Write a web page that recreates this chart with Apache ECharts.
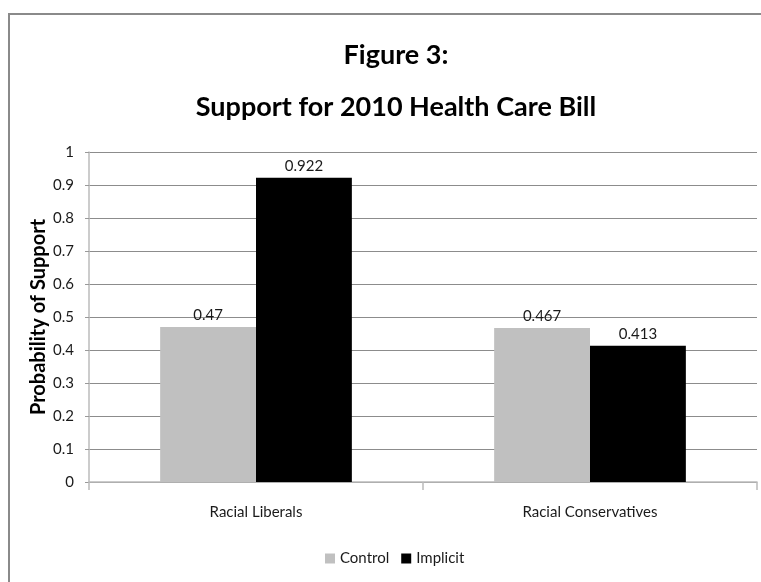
<!DOCTYPE html>
<html>
<head>
<meta charset="utf-8">
<script src="https://cdn.jsdelivr.net/npm/echarts@6/dist/echarts.min.js"></script>
<style>html,body{margin:0;padding:0;background:#fff}#c{width:761px;height:582px}</style>
</head>
<body>
<div id="c"></div>
<script>
const categories = ['Racial Liberals', 'Racial Conservatives'];
const controlValues = [0.47, 0.467];
const implicitValues = [0.922, 0.413];
const seriesNames = ['Control', 'Implicit'];
const titleText = 'Figure 3:\nSupport for 2010 Health Care Bill';
const yAxisTitle = 'Probability of Support';

const FONT = 'Lato, "Open Sans", sans-serif';
const chart = echarts.init(document.getElementById('c'), null, {renderer: 'canvas'});
const labelStyle = {show: true, position: 'top', distance: 4, color: '#1a1a1a', fontFamily: FONT, fontSize: 15,
  formatter: p => String(p.value)};
chart.setOption({
  animation: false,
  backgroundColor: '#fff',
  graphic: [{type: 'rect', shape: {x: 9, y: 14, width: 800, height: 620}, style: {fill: 'none', stroke: '#8a8a8a', lineWidth: 2}, silent: true}],
  title: {
    text: titleText, left: 391, top: 24, textAlign: 'center',
    textStyle: {fontFamily: FONT, fontWeight: 'bold', fontSize: 27, lineHeight: 52, color: '#000'}
  },
  legend: {
    data: seriesNames, left: 320, top: 546, itemWidth: 10, itemHeight: 10, itemGap: 12,
    icon: 'rect', textStyle: {fontFamily: FONT, fontSize: 15, color: '#1a1a1a'}
  },
  grid: {left: 89, right: 4, top: 152, bottom: 100, containLabel: false},
  xAxis: {
    type: 'category', data: categories,
    axisLine: {lineStyle: {color: '#bbb', width: 1.5}},
    axisTick: {show: true, length: 8, lineStyle: {color: '#bbb', width: 1.5}},
    axisLabel: {margin: 23, fontFamily: FONT, fontSize: 15, color: '#1a1a1a'}
  },
  yAxis: {
    type: 'value', min: 0, max: 1, interval: 0.1,
    name: yAxisTitle, nameLocation: 'middle', nameGap: 40, nameRotate: 90, nameMoveOverlap: false,
    nameTextStyle: {fontFamily: FONT, fontWeight: 'bold', fontSize: 20, color: '#000'},
    axisLine: {show: true, lineStyle: {color: '#bbb', width: 1.5}},
    axisTick: {show: true, length: 4, lineStyle: {color: '#999'}},
    splitLine: {lineStyle: {color: '#8c8c8c', width: 1}},
    axisLabel: {margin: 15, fontFamily: FONT, fontSize: 15, color: '#1a1a1a',
      formatter: v => String(Math.round(v * 10) / 10)}
  },
  series: [
    {name: seriesNames[0], type: 'bar', data: controlValues, barWidth: '28.7%', barGap: '0%',
      itemStyle: {color: '#c0c0c0'}, label: labelStyle},
    {name: seriesNames[1], type: 'bar', data: implicitValues, barWidth: '28.7%', barGap: '0%',
      itemStyle: {color: '#000000'}, label: labelStyle}
  ]
});
</script>
</body>
</html>
